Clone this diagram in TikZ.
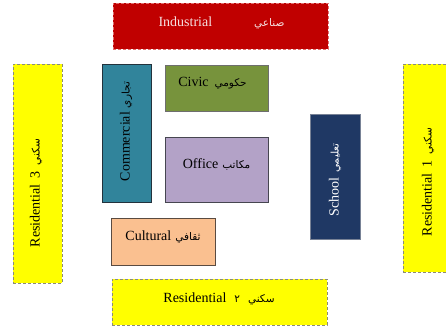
\documentclass[tikz,border=0pt]{standalone}
\usepackage{fontspec}
\setmainfont{Liberation Serif}
\newfontfamily\ar[Script=Arabic]{DejaVu Sans}
\TeXXeTstate=1
\newcommand{\arw}[1]{{\ar\fontsize{10.5}{12}\selectfont\beginR #1\endR}}

\definecolor{indred}{RGB}{192,0,0}
\definecolor{indedge}{RGB}{225,110,110}
\definecolor{resyellow}{RGB}{255,255,0}
\definecolor{resedge}{RGB}{140,140,120}
\definecolor{comfill}{RGB}{49,132,155}
\definecolor{comedge}{RGB}{35,50,60}
\definecolor{civfill}{RGB}{119,147,60}
\definecolor{civedge}{RGB}{110,110,110}
\definecolor{offfill}{RGB}{179,162,199}
\definecolor{offedge}{RGB}{70,70,80}
\definecolor{culfill}{RGB}{250,192,144}
\definecolor{culedge}{RGB}{90,75,65}
\definecolor{schfill}{RGB}{31,56,100}
\definecolor{schedge}{RGB}{120,130,150}
\definecolor{lighttext}{RGB}{245,225,225}

\tikzset{
  zone/.style={rectangle, inner sep=0pt, line width=0.9pt},
  dashedzone/.style={zone, dashed, dash pattern=on 3pt off 2pt},
  industrial/.style={dashedzone, fill=indred, draw=indedge},
  residential/.style={dashedzone, fill=resyellow, draw=resedge},
  commercial/.style={zone, fill=comfill, draw=comedge},
  civic/.style={zone, fill=civfill, draw=civedge},
  office/.style={zone, fill=offfill, draw=offedge},
  cultural/.style={zone, fill=culfill, draw=culedge},
  school/.style={zone, fill=schfill, draw=schedge},
  zonetext/.style={inner sep=0pt, font=\fontsize{14}{16}\selectfont, text=black},
}

\begin{document}
\begin{tikzpicture}[x=1pt, y=-1pt]
  \useasboundingbox (0,0) rectangle (446,330);
  \clip (0,0) rectangle (446,330);

  % zone blocks
  \node[industrial, minimum width=215pt, minimum height=46pt] (ind) at (220.5,26) {};
  \node[residential, minimum width=49pt, minimum height=219pt] (res3) at (37.5,173.5) {};
  \node[commercial, minimum width=49pt, minimum height=138pt] (com) at (126.5,133) {};
  \node[civic, minimum width=103pt, minimum height=46pt] (civ) at (216.5,88) {};
  \node[office, minimum width=103pt, minimum height=65pt] (off) at (216.5,169.5) {};
  \node[cultural, minimum width=104pt, minimum height=47pt] (cul) at (163,241.5) {};
  \node[residential, minimum width=215pt, minimum height=46pt] (res2) at (219.5,302) {};
  \node[school, minimum width=50pt, minimum height=125pt] (sch) at (335,176.5) {};
  \node[residential, minimum width=50pt, minimum height=208pt] (res1) at (428,168) {};

  % zone labels
  \node[zonetext, text=lighttext] (indT) at (221.5,23) {Industrial\hspace{42pt}\arw{صناعي}};
  \node[zonetext, rotate=90] (res3T) at (36,193) {Residential\hspace{6pt}3\hspace{6pt}\arw{سكني}};
  \node[zonetext, rotate=90] (comT) at (126,131.5) {Commercial\hspace{4pt}\arw{تجاري}};
  \node[zonetext] (civT) at (212.5,83) {Civic\hspace{6pt}\arw{حكومي}};
  \node[zonetext] (offT) at (216.5,164.5) {Office\hspace{4pt}\arw{مكاتب}};
  \node[zonetext] (culT) at (163,237) {Cultural\hspace{4pt}\arw{ثقافي}};
  \node[zonetext] (res2T) at (219,298.5) {Residential\hspace{8pt}\arw{٢}\hspace{8pt}\arw{سكني}};
  \node[zonetext, rotate=90, text=white] (schT) at (335,180) {School\hspace{5pt}\arw{تعليمي}};
  \node[zonetext, rotate=90] (res1T) at (428,182) {Residential\hspace{6pt}1\hspace{6pt}\arw{سكني}};
\end{tikzpicture}
\end{document}
